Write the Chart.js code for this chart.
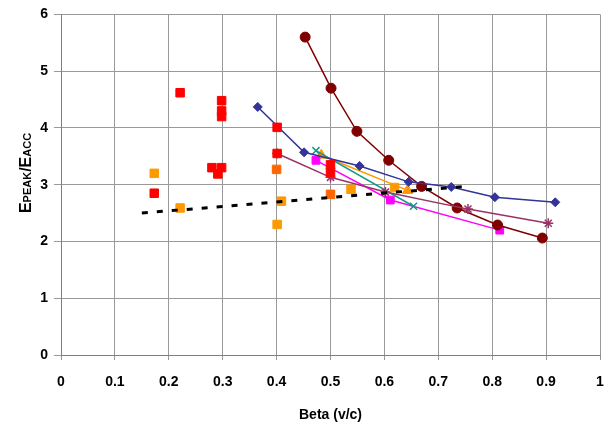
<!DOCTYPE html>
<html>
<head>
<meta charset="utf-8">
<script src="https://cdn.jsdelivr.net/npm/chart.js@4/dist/chart.umd.min.js"></script>
<style>
  html, body { margin: 0; padding: 0; background: #fff; }
  #wrap { width: 607px; height: 428px; }
</style>
</head>
<body>
<div id="wrap"><canvas id="c"></canvas></div>
<script>
// values (beta, Epeak/Eacc)
const redBeta    = [0.173, 0.221, 0.28, 0.291, 0.298, 0.298, 0.298, 0.298, 0.401, 0.401, 0.5, 0.5];
const redRatio   = [2.85, 4.62, 3.3, 3.19, 3.3, 4.48, 4.3, 4.2, 4.01, 3.55, 3.35, 3.22];

const orangeBeta  = [0.173, 0.221, 0.401, 0.409, 0.538, 0.619];
const orangeRatio = [3.2, 2.59, 2.3, 2.71, 2.92, 2.95];

const darkOrangeBeta  = [0.4, 0.5];
const darkOrangeRatio = [3.27, 2.83];

const blueBeta   = [0.365, 0.451, 0.554, 0.645, 0.724, 0.805, 0.917];
const blueRatio  = [4.37, 3.57, 3.33, 3.05, 2.96, 2.78, 2.69];

const maroonBeta  = [0.453, 0.501, 0.549, 0.608, 0.669, 0.735, 0.81, 0.893];
const maroonRatio = [5.6, 4.7, 3.94, 3.43, 2.97, 2.59, 2.29, 2.06];

const purpleBeta  = [0.401, 0.5, 0.602, 0.755, 0.904];
const purpleRatio = [3.55, 3.13, 2.87, 2.57, 2.32];

const tealBeta   = [0.473, 0.654];
const tealRatio  = [3.6, 2.62];

const magentaBeta  = [0.473, 0.611, 0.814];
const magentaRatio = [3.43, 2.73, 2.2];

const triBeta    = [0.483, 0.643];
const triRatio   = [3.52, 2.9];

const trendBeta  = [0.15, 0.75];
const trendRatio = [2.5, 2.97];

const xTicks = [0, 0.1, 0.2, 0.3, 0.4, 0.5, 0.6, 0.7, 0.8, 0.9, 1];

const FONT = '"Liberation Sans", Arial, sans-serif';

function pts(xs, ys) {
    return xs.map((x, i) => ({ x, y: ys[i] }));
}

function series(label, xs, ys, color, style, radius, showLine, order) {
    return {
        label,
        data: pts(xs, ys),
        borderColor: color,
        backgroundColor: color,
        pointStyle: style,
        pointRadius: radius,
        pointHoverRadius: radius,
        pointBorderWidth: (style === 'crossRot' || style === 'star') ? 1.5 : 1,
        borderWidth: 1.5,
        showLine,
        order
    };
}

// y title with small-caps style subscripts
const yTitle = {
    id: 'yTitle',
    afterDraw(chart) {
        const ctx = chart.ctx;
        const parts = [['E', 16], ['PEAK', 11], ['/', 16], ['E', 16], ['ACC', 11]];
        ctx.save();
        ctx.translate(25, 173);
        ctx.rotate(-Math.PI / 2);
        ctx.fillStyle = '#000';
        ctx.textBaseline = 'alphabetic';
        let total = 0;
        parts.forEach(p => {
            ctx.font = `bold ${p[1]}px ${FONT}`;
            total += ctx.measureText(p[0]).width;
        });
        let x = -total / 2;
        parts.forEach(p => {
            ctx.font = `bold ${p[1]}px ${FONT}`;
            ctx.fillText(p[0], x, 6);
            x += ctx.measureText(p[0]).width;
        });
        ctx.restore();
    }
};

const datasets = [
    series('red', redBeta, redRatio, '#ff0000', 'rect', 6, false, 1),
    series('dark orange', darkOrangeBeta, darkOrangeRatio, '#ff6600', 'rect', 6, false, 2),
    series('orange', orangeBeta, orangeRatio, '#ff9900', 'rect', 6, false, 3),
    series('purple', purpleBeta, purpleRatio, '#993366', 'star', 5, true, 4),
    series('blue', blueBeta, blueRatio, '#333399', 'rectRot', 4.5, true, 5),
    series('maroon', maroonBeta, maroonRatio, '#800000', 'circle', 5, true, 6),
    series('teal', tealBeta, tealRatio, '#119988', 'crossRot', 5, true, 7),
    series('magenta', magentaBeta, magentaRatio, '#ff00ff', 'rect', 5.5, true, 8),
    series('triangle', triBeta, triRatio, '#ff9900', 'triangle', 6, true, 9),
    {
        label: 'trend',
        data: pts(trendBeta, trendRatio),
        borderColor: '#000',
        borderWidth: 3,
        borderDash: [6, 9],
        pointRadius: 0,
        showLine: true,
        order: 0
    }
];

new Chart(document.getElementById('c'), {
    type: 'scatter',
    data: { datasets },
    plugins: [yTitle],
    options: {
        responsive: true,
        maintainAspectRatio: false,
        animation: false,
        layout: { padding: { top: 7, right: -4 } },
        plugins: {
            legend: { display: false },
            tooltip: { enabled: false }
        },
        scales: {
            x: {
                type: 'linear',
                min: 0,
                max: 1,
                afterBuildTicks: axis => { axis.ticks = xTicks.map(v => ({ value: v })); },
                afterFit: axis => {
                    axis.height = 73;
                    axis.paddingRight = 0;
                    axis.paddingLeft = 0;
                },
                grid: { color: '#999999', lineWidth: 1, tickLength: 5 },
                border: { color: '#808080', width: 1 },
                ticks: {
                    color: '#000',
                    font: { family: FONT, size: 14, weight: 'bold' },
                    padding: 14,
                    maxRotation: 0,
                    callback: v => String(v)
                },
                title: {
                    display: true,
                    text: 'Beta (v/c)',
                    color: '#000',
                    font: { family: FONT, size: 14, weight: 'bold' },
                    padding: { top: 12 }
                }
            },
            y: {
                min: 0,
                max: 6,
                afterFit: axis => { axis.width = 61; },
                grid: { color: '#999999', lineWidth: 1, tickLength: 7 },
                border: { color: '#808080', width: 1 },
                ticks: {
                    stepSize: 1,
                    color: '#000',
                    font: { family: FONT, size: 14, weight: 'bold' },
                    padding: 6
                }
            }
        }
    }
});
</script>
</body>
</html>
